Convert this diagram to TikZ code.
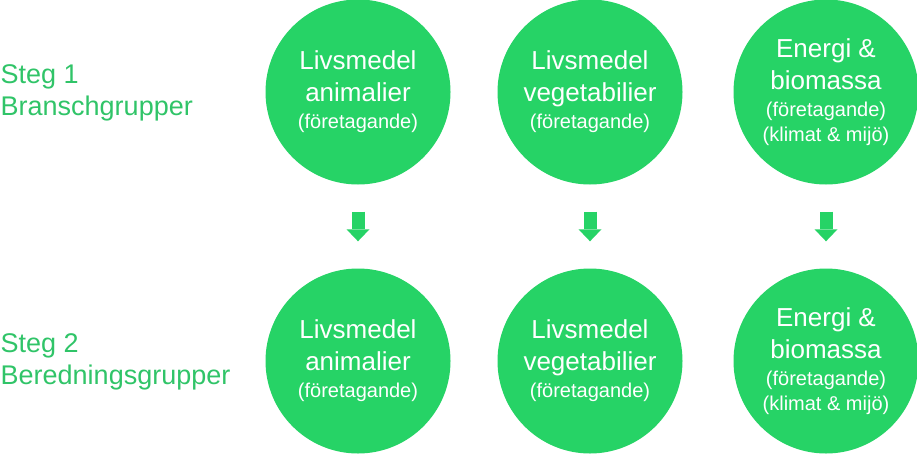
\documentclass[tikz,border=0pt]{standalone}
\usepackage{fontspec}
\setmainfont{Liberation Sans}
\usetikzlibrary{arrows.meta}
\definecolor{circgreen}{RGB}{38,211,102}
\definecolor{labgreen}{RGB}{48,196,104}
\newcommand\bigline{\fontsize{26}{32}\selectfont}
\newcommand\smallline{\fontsize{20}{25}\selectfont}
\tikzset{
  grp/.style={circle, fill=circgreen, text=white, minimum size=185pt, inner sep=0pt, align=center, font=\bigline},
  steplabel/.style={anchor=base west, inner sep=0pt, text=labgreen, font=\fontsize{27}{32}\selectfont},
  flow/.style={draw=circgreen, line width=13pt, -{Triangle[width=23pt 0 0,length=12pt 0 0,line width=0pt]}, shorten <=27pt, shorten >=27pt}
}
\begin{document}
\begin{tikzpicture}[x=1pt,y=-1pt]
\useasboundingbox (0,0) rectangle (917,453);
% row labels
\node[steplabel] (s1a) at (0.5,83) {Steg 1};
\node[steplabel] (s1b) at (0.5,115) {Branschgrupper};
\node[steplabel] (s2a) at (0.5,352) {Steg 2};
\node[steplabel] (s2b) at (0.5,384) {Beredningsgrupper};
% top row
\node[grp] (a1) at (358,92) {Livsmedel\\ animalier\\[-5pt] {\smallline (företagande)}};
\node[grp] (a2) at (590,92) {Livsmedel\\ vegetabilier\\[-5pt] {\smallline (företagande)}};
\node[grp] (a3) at (826,92) {Energi \&\\ biomassa\\[-5pt] {\smallline (företagande)}\\[-7pt] {\smallline (klimat \& mijö)}};
% bottom row
\node[grp] (b1) at (358,361) {Livsmedel\\ animalier\\[-5pt] {\smallline (företagande)}};
\node[grp] (b2) at (590,361) {Livsmedel\\ vegetabilier\\[-5pt] {\smallline (företagande)}};
\node[grp] (b3) at (826,361) {Energi \&\\ biomassa\\[-5pt] {\smallline (företagande)}\\[-7pt] {\smallline (klimat \& mijö)}};
% arrows
\draw[flow] (a1) -- (b1);
\draw[flow] (a2) -- (b2);
\draw[flow] (a3) -- (b3);
\end{tikzpicture}
\end{document}
